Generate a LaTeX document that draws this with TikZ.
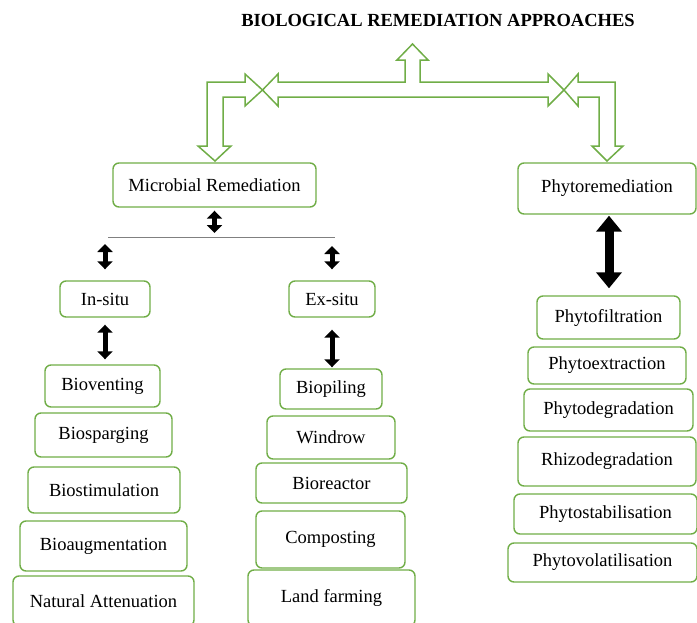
\documentclass[tikz,border=0pt]{standalone}
\usepackage{fontspec}
\setmainfont{Liberation Serif}
\usetikzlibrary{arrows.meta}
\definecolor{leaf}{HTML}{70AD47}
\definecolor{busGray}{HTML}{808080}

\begin{document}
\begin{tikzpicture}[x=1pt, y=-1pt, line join=round]

\tikzset{
  stage/.style={draw=leaf, line width=1.4pt, rounded corners=6pt, inner sep=0pt,
                font=\fontsize{18.5}{22}\selectfont},
  hollow/.style={draw=leaf, line width=1.5pt, line join=miter},
  dbl/.style={line width=5pt,
              {Triangle[width=15pt,length=8pt]}-{Triangle[width=15pt,length=8pt]}},
  dblbig/.style={line width=9pt,
                 {Triangle[width=25pt,length=16pt]}-{Triangle[width=25pt,length=16pt]}},
}

\useasboundingbox (0,0) rectangle (697,622);

\node[font=\bfseries\fontsize{18.5}{22}\selectfont] (title) at (438,20)
      {BIOLOGICAL REMEDIATION APPROACHES};

% top block arrows
\draw[hollow] (278,82) -- (405,82) -- (405,60) -- (397,60) -- (412.5,44) -- (428,60)
      -- (420,60) -- (420,82) -- (548,82) -- (548,74) -- (564,90) -- (548,106)
      -- (548,97) -- (278,97) -- (278,106) -- (262.5,90) -- (278,74) -- cycle;
\draw[hollow] (245,82) -- (245,74) -- (262.5,90) -- (245,106) -- (245,97) -- (223,97)
      -- (223,146) -- (231,146) -- (215,161) -- (198,146) -- (207,146) -- (207,82) -- cycle;
\draw[hollow] (578,82) -- (615,82) -- (615,146) -- (623,146) -- (607,161) -- (592,146)
      -- (599,146) -- (599,97) -- (578,97) -- (578,106) -- (564,90) -- (578,74) -- cycle;

% main branches
\node[stage, minimum width=203pt, minimum height=44pt] (mr) at (214.5,185) {Microbial Remediation};
\node[stage, minimum width=178pt, minimum height=51pt] (phyto) at (607,188.5) {Phytoremediation};

\coordinate (busL) at (108,237);
\coordinate (busR) at (335,237);
\draw[busGray, line width=1pt] (busL) -- (busR);

\node[stage, minimum width=90pt, minimum height=36pt] (insitu) at (105,299) {In-situ};
\node[stage, minimum width=86pt, minimum height=36pt] (exsitu) at (332,299) {Ex-situ};

% in-situ
\node[stage, minimum width=115pt, minimum height=42pt] (bvent) at (102.5,386) {Bioventing};
\node[stage, minimum width=137pt, minimum height=44pt] (bsparg) at (103.5,435) {Biosparging};
\node[stage, minimum width=152pt, minimum height=46pt] (bstim) at (104,490) {Biostimulation};
\node[stage, minimum width=167pt, minimum height=50pt] (baug) at (103.5,546) {Bioaugmentation};
\node[stage, minimum width=181pt, minimum height=50pt] (natatt) at (103.5,601) {Natural Attenuation};

% ex-situ
\node[stage, minimum width=102pt, minimum height=40pt] (bpile) at (331,389) {Biopiling};
\node[stage, minimum width=128pt, minimum height=43pt] (windrow) at (331,437.5) {Windrow};
\node[stage, minimum width=151pt, minimum height=40pt] (breact) at (331.5,483) {Bioreactor};
\node[stage, minimum width=149pt, minimum height=57pt] (compost) at (330.5,539.5) {Composting};
\node[stage, minimum width=167pt, minimum height=56pt] (landf) at (331.5,598) {Land farming};

% phyto
\node[stage, minimum width=143pt, minimum height=43pt] (pfilt) at (608.5,317.5) {Phytofiltration};
\node[stage, minimum width=158pt, minimum height=37pt] (pextr) at (607,365.5) {Phytoextraction};
\node[stage, minimum width=169pt, minimum height=42pt] (pdegr) at (608.5,410) {Phytodegradation};
\node[stage, minimum width=178pt, minimum height=49pt] (rdegr) at (607,461.5) {Rhizodegradation};
\node[stage, minimum width=183pt, minimum height=40pt] (pstab) at (605.5,514) {Phytostabilisation};
\node[stage, minimum width=189pt, minimum height=39pt] (pvol) at (602.5,562.5) {Phytovolatilisation};

% black double arrows
\draw[dbl, shorten <=3pt, shorten >=4pt] (mr.south) -- (mr.south |- busL);
\draw[dbl, shorten <=7pt, shorten >=11pt] (insitu.north |- busL) -- (insitu.north);
\draw[dbl, shorten <=9pt, shorten >=11pt] (exsitu.north |- busR) -- (exsitu.north);
\draw[dbl, shorten <=7pt, shorten >=5pt] (insitu.south) -- (insitu.south |- bvent.north);
\draw[dbl, shorten <=12pt, shorten >=1pt] (exsitu.south) -- (exsitu.south |- bpile.north);
\draw[dblbig, shorten <=1pt, shorten >=7pt] ([xshift=2pt]phyto.south) -- ([xshift=2pt]phyto.south |- pfilt.north);

\end{tikzpicture}
\end{document}
